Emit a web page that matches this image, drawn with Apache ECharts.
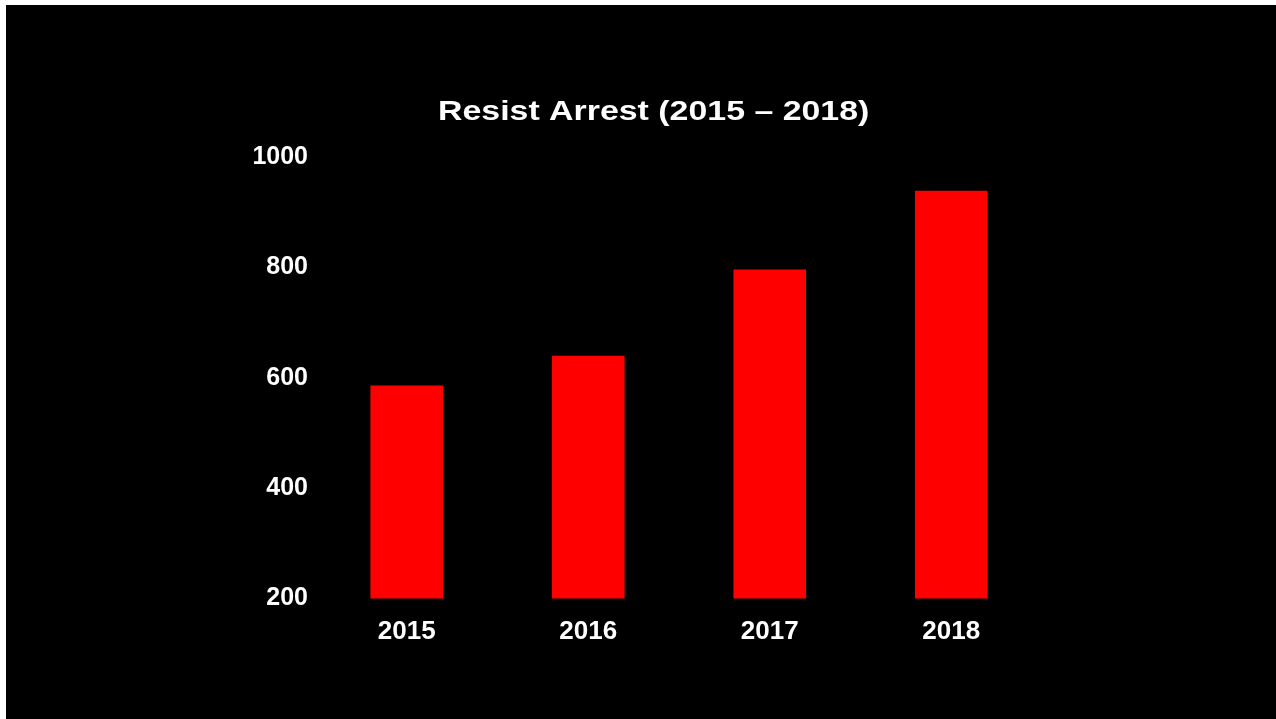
<!DOCTYPE html>
<html>
<head>
<meta charset="utf-8">
<script src="https://cdn.jsdelivr.net/npm/echarts@6/dist/echarts.min.js"></script>
<style>
    html, body { margin: 0; padding: 0; background: #fff; width: 1276px; height: 719px; overflow: hidden; }
    #chart { position: absolute; left: 6px; top: 5px; width: 1270px; height: 714px; background: #000; }
</style>
</head>
<body>
<div id="chart"></div>
<script>
    // chart data
    var years = ['2015', '2016', '2017', '2018'];
    var resistArrest = [586, 640, 796, 939];
    var yTicks = [200, 400, 600, 800, 1000];
    var chartTitle = 'Resist Arrest (2015 \u2013 2018)';

    var myChart = echarts.init(document.getElementById('chart'));

    var option = {
        backgroundColor: '#000',
        textStyle: { fontFamily: 'Liberation Sans, Arial, sans-serif' },
        // title is a bit wider than the plain font, so stretch it a little
        graphic: [
            {
                type: 'text',
                left: 432,
                top: 93,
                scaleX: 1.21,
                style: {
                    text: chartTitle,
                    fill: '#fff',
                    font: 'bold 28px "Liberation Sans", Arial, sans-serif'
                }
            }
        ],
        grid: {
            left: 310,
            right: 234,
            top: 152,
            bottom: 120.5,
            containLabel: false
        },
        xAxis: {
            type: 'category',
            data: years,
            axisLine: { show: false },
            axisTick: { show: false },
            axisLabel: {
                color: '#fff',
                fontSize: 26,
                fontWeight: 'bold',
                margin: 20
            }
        },
        yAxis: {
            type: 'value',
            min: yTicks[0],
            max: yTicks[yTicks.length - 1],
            interval: 200,
            axisLine: { show: false },
            axisTick: { show: false },
            splitLine: { show: false },
            axisLabel: {
                color: '#fff',
                fontSize: 25,
                fontWeight: 'bold',
                margin: 8,
                padding: [4, 0, 0, 0],
                formatter: function (v) { return String(v); }
            }
        },
        series: [
            {
                name: 'Resist Arrest',
                type: 'bar',
                barWidth: '40%',
                data: resistArrest,
                itemStyle: { color: '#ff0000' }
            }
        ]
    };

    myChart.setOption(option);
</script>
</body>
</html>
